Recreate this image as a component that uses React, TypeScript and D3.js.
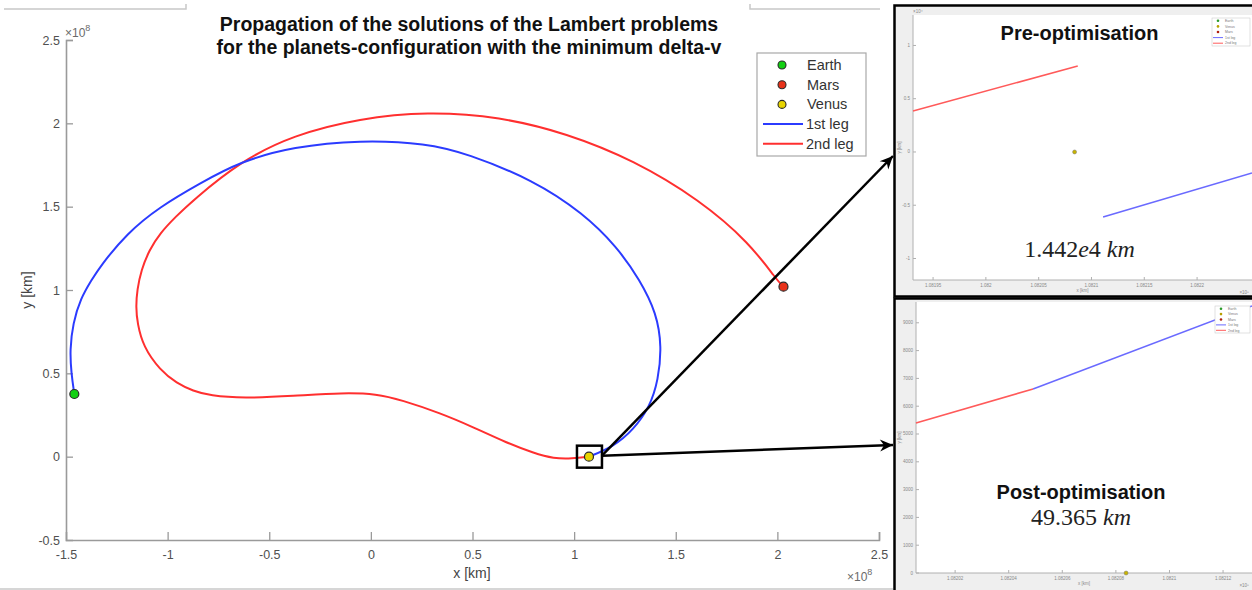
import React, { useRef, useEffect } from "react";
import * as d3 from "d3";

// Main plot: trajectories in units of 1e8 km
const leg1: [number, number][] = [
  [-1.459, 0.376], [-1.474, 0.5], [-1.481, 0.64], [-1.466, 0.8], [-1.428, 0.95],
  [-1.374, 1.06], [-1.333, 1.14], [-1.201, 1.34], [-1.038, 1.5], [-0.841, 1.64],
  [-0.644, 1.77], [-0.382, 1.86], [-0.053, 1.9], [0.275, 1.88], [0.471, 1.82],
  [0.799, 1.66], [1.045, 1.46], [1.21, 1.26], [1.324, 1.06], [1.406, 0.86],
  [1.431, 0.66], [1.414, 0.46], [1.373, 0.3], [1.291, 0.16], [1.193, 0.06],
  [1.073, 0.0],
];

const leg2: [number, number][] = [
  [1.073, 0.0], [0.99, -0.012], [0.9, -0.012], [0.8, 0.022], [0.67, 0.082],
  [0.502, 0.178], [0.34, 0.262], [0.15, 0.34], [0.029, 0.376], [-0.136, 0.384],
  [-0.382, 0.364], [-0.628, 0.35], [-0.792, 0.366], [-0.874, 0.394], [-0.955, 0.44],
  [-1.038, 0.52], [-1.12, 0.66], [-1.149, 0.8], [-1.156, 0.9], [-1.15, 1.0],
  [-1.13, 1.12], [-1.09, 1.24], [-1.038, 1.34], [-0.96, 1.44], [-0.874, 1.54],
  [-0.644, 1.77], [-0.382, 1.93], [-0.053, 2.03], [0.275, 2.07], [0.635, 2.04],
  [0.963, 1.94], [1.291, 1.78], [1.619, 1.54], [1.865, 1.28], [1.997, 1.06],
  [2.03, 1.02],
];

const planetNames = ["Earth", "Mars", "Venus"];
const planetX = [-1.459, 2.03, 1.073];
const planetY = [0.376, 1.02, 0.0];

const xTicks = [-1.5, -1, -0.5, 0, 0.5, 1, 1.5, 2, 2.5];
const yTicks = [-0.5, 0, 0.5, 1, 1.5, 2, 2.5];

const titleLines = [
  "Propagation of the solutions of the Lambert problems",
  "for the planets-configuration with the minimum delta-v",
];
const legendLabels = ["Earth", "Mars", "Venus", "1st leg", "2nd leg"];

// Pre-optimisation zoom (x in 1e8 km, y in 1e4 km)
const preLeg2: [number, number][] = [[1.081931, 0.385], [1.082087, 0.808]];
const preLeg1: [number, number][] = [[1.082111, -0.61], [1.082252, -0.197]];
const preVenus: [number, number] = [1.082084, 0];
const preXTicks = [1.08195, 1.082, 1.08205, 1.0821, 1.08215, 1.0822];
const preYTicks = [-1, -0.5, 0, 0.5, 1];

// Post-optimisation zoom (x in 1e8 km, y in km)
const postLeg2: [number, number][] = [[1.0820054, 5396], [1.0820491, 6619]];
const postLeg1: [number, number][] = [[1.0820491, 6619], [1.0821308, 9604]];
const postVenus: [number, number] = [1.0820838, 0];
const postXTicks = [1.08202, 1.08204, 1.08206, 1.08208, 1.0821, 1.08212];
const postYTicks = [0, 1000, 2000, 3000, 4000, 5000, 6000, 7000, 8000, 9000];
const insetLegend = ["Earth", "Venus", "Mars", "1st leg", "2nd leg"];

const BLUE = "#2b3bff";
const RED = "#ff2f2f";
const planetFill: Record<string, string> = { Earth: "#12d012", Mars: "#e8321a", Venus: "#e8d400" };
const SANS = "'Liberation Sans', Arial, Helvetica, sans-serif";
const SERIF = "'Liberation Serif', 'DejaVu Serif', serif";

type G = d3.Selection<SVGGElement, unknown, null, undefined>;

function drawInset(
  g: G,
  o: {
    frame: [number, number, number, number];
    plot: [number, number, number, number];
    xDomain: [number, number];
    yDomain: [number, number];
    xTicks: number[];
    yTicks: number[];
    red: [number, number][];
    blue: [number, number][];
    venus: [number, number];
    legend: [number, number, number, number];
    title: string;
    titleY: number;
    value: [string, boolean][];
    valueY: number;
    yExp: string;
  },
) {
  const [fx, fy, fw, fh] = o.frame;
  const [l, t, r, b] = o.plot;
  g.append("rect").attr("x", fx).attr("y", fy).attr("width", fw).attr("height", fh).attr("fill", "#efefef");
  g.append("rect").attr("x", l).attr("y", t).attr("width", r - l).attr("height", b - t).attr("fill", "#fff");

  const x = d3.scaleLinear().domain(o.xDomain).range([l, r]);
  const y = d3.scaleLinear().domain(o.yDomain).range([b, t]);
  const small = (sel: d3.Selection<SVGTextElement, unknown, null, undefined>) =>
    sel.attr("font-family", SANS).attr("font-size", 4.5).attr("fill", "#888");

  // axes
  g.append("line").attr("x1", l).attr("x2", l).attr("y1", t).attr("y2", b).attr("stroke", "#b0b0b0").attr("stroke-width", 1);
  g.append("line").attr("x1", l).attr("x2", r).attr("y1", b).attr("y2", b).attr("stroke", "#b0b0b0").attr("stroke-width", 1);
  o.xTicks.forEach((v) => {
    g.append("line").attr("x1", x(v)).attr("x2", x(v)).attr("y1", b).attr("y2", b - 3).attr("stroke", "#b0b0b0");
    small(g.append("text").attr("x", x(v)).attr("y", b + 7).attr("text-anchor", "middle")).text(String(v));
  });
  o.yTicks.forEach((v) => {
    g.append("line").attr("x1", l).attr("x2", l + 3).attr("y1", y(v)).attr("y2", y(v)).attr("stroke", "#b0b0b0");
    small(g.append("text").attr("x", l - 3).attr("y", y(v) + 1.5).attr("text-anchor", "end")).text(String(v));
  });
  small(g.append("text").attr("x", (l + r) / 2).attr("y", b + 12).attr("text-anchor", "middle")).text("x [km]");
  small(g.append("text").attr("transform", `translate(${fx + 6},${(t + b) / 2}) rotate(-90)`).attr("text-anchor", "middle")).text("y [km]");
  if (o.yExp) small(g.append("text").attr("x", l).attr("y", t - 2)).text(o.yExp);
  small(g.append("text").attr("x", r - 3).attr("y", b + 14).attr("text-anchor", "end")).text("×10⁸");

  const line = d3.line<[number, number]>().x((d) => x(d[0])).y((d) => y(d[1]));
  g.append("path").datum(o.red).attr("d", line).attr("fill", "none").attr("stroke", "#ff5a5a").attr("stroke-width", 1.6);
  g.append("path").datum(o.blue).attr("d", line).attr("fill", "none").attr("stroke", "#6a6aff").attr("stroke-width", 1.6);
  g.append("circle").attr("cx", x(o.venus[0])).attr("cy", y(o.venus[1])).attr("r", 2)
    .attr("fill", "#c8b400").attr("stroke", "#777").attr("stroke-width", 0.5);

  // tiny legend
  const [lx, ly, lw, lh] = o.legend;
  g.append("rect").attr("x", lx).attr("y", ly).attr("width", lw).attr("height", lh)
    .attr("fill", "#fff").attr("stroke", "#ccc").attr("stroke-width", 0.6);
  const step = lh / insetLegend.length;
  insetLegend.forEach((name, i) => {
    const cy = ly + step * (i + 0.5);
    if (i < 3) {
      g.append("circle").attr("cx", lx + 6).attr("cy", cy).attr("r", 1.3)
        .attr("fill", name === "Earth" ? "#2a9a2a" : name === "Venus" ? "#b8a000" : "#b02010");
    } else {
      g.append("line").attr("x1", lx + 1).attr("x2", lx + 11).attr("y1", cy).attr("y2", cy)
        .attr("stroke", i === 3 ? "#6a6aff" : "#ff5a5a").attr("stroke-width", 1);
    }
    g.append("text").attr("x", lx + 13).attr("y", cy + 1.2).attr("font-family", SANS).attr("font-size", 3.5)
      .attr("fill", "#777").text(name);
  });

  g.append("text").attr("x", (l + r) / 2 - 3).attr("y", o.titleY).attr("text-anchor", "middle")
    .attr("font-family", SANS).attr("font-weight", "bold").attr("font-size", 20).attr("fill", "#111").text(o.title);
  const vt = g.append("text").attr("x", (l + r) / 2 - 3).attr("y", o.valueY).attr("text-anchor", "middle")
    .attr("font-family", SERIF).attr("font-size", 24).attr("fill", "#222");
  o.value.forEach(([s, it]) => vt.append("tspan").attr("font-style", it ? "italic" : "normal").text(s));
}

const TrajectoryFigure: React.FC = () => {
  const ref = useRef<SVGSVGElement | null>(null);

  useEffect(() => {
    const svg = d3.select(ref.current);
    svg.selectAll("*").remove();
    const root = svg.append("g") as unknown as G;

    root.append("rect").attr("width", 1252).attr("height", 590).attr("fill", "#fff");

    // screenshot edges
    const edge = "#c8c8c8";
    root.append("path").attr("d", "M4,9H186V4").attr("fill", "none").attr("stroke", edge).attr("stroke-width", 1.5);
    root.append("path").attr("d", "M750,4V9H880").attr("fill", "none").attr("stroke", edge).attr("stroke-width", 1.5);
    root.append("line").attr("x1", 0).attr("x2", 893).attr("y1", 589).attr("y2", 589).attr("stroke", edge).attr("stroke-width", 1.5);

    const x = d3.scaleLinear().domain([-1.5, 2.5]).range([66, 879]);
    const y = d3.scaleLinear().domain([-0.5, 2.5]).range([540, 40]);
    const axisColor = "#9a9a9a";
    const tickColor = "#505050";

    // axes (MATLAB style, inward ticks)
    const gx = root.append("g").attr("transform", `translate(0,${y(-0.5)})`);
    gx.call(d3.axisBottom(x).tickValues(xTicks).tickSize(-8).tickPadding(10).tickFormat((d) => String(d)) as any);
    const gy = root.append("g").attr("transform", `translate(${x(-1.5)},0)`);
    gy.call(d3.axisLeft(y).tickValues(yTicks).tickSize(-7).tickPadding(6).tickFormat((d) => String(d)) as any);
    [gx, gy].forEach((a) => {
      a.select(".domain").attr("stroke", axisColor).attr("stroke-width", 1.6);
      a.selectAll(".tick line").attr("stroke", axisColor).attr("stroke-width", 1.3);
      a.selectAll(".tick text").attr("fill", tickColor).attr("font-family", SANS).attr("font-size", 12.5);
    });
    gx.selectAll(".tick").filter((d) => d === -1.5).select("line").remove();
    gy.selectAll(".tick").filter((d) => d === -0.5).select("line").remove();

    const expLabel = (px: number, py: number) => {
      const t = root.append("text").attr("x", px).attr("y", py).attr("font-family", SANS).attr("fill", "#6a6a6a").attr("font-size", 12);
      t.append("tspan").text("×10");
      t.append("tspan").attr("font-size", 9).attr("dy", -6).text("8");
    };
    expLabel(65, 37);
    expLabel(847, 581);

    root.append("text").attr("x", 472).attr("y", 578).attr("text-anchor", "middle")
      .attr("font-family", SANS).attr("font-size", 14).attr("fill", "#444").text("x [km]");
    root.append("text").attr("transform", "translate(32,290) rotate(-90)").attr("text-anchor", "middle")
      .attr("font-family", SANS).attr("font-size", 14).attr("fill", "#444").text("y [km]");

    // title
    titleLines.forEach((s, i) => {
      root.append("text").attr("x", 469).attr("y", 31 + i * 23).attr("text-anchor", "middle")
        .attr("font-family", SANS).attr("font-weight", "bold").attr("font-size", 19.5).attr("fill", "#111").text(s);
    });

    // trajectories
    const line = d3.line<[number, number]>().x((d) => x(d[0])).y((d) => y(d[1])).curve(d3.curveBasis);
    root.append("path").datum(leg2).attr("d", line).attr("fill", "none").attr("stroke", RED).attr("stroke-width", 2);
    root.append("path").datum(leg1).attr("d", line).attr("fill", "none").attr("stroke", BLUE).attr("stroke-width", 2);

    planetNames.forEach((n, i) => {
      root.append("circle").attr("cx", x(planetX[i])).attr("cy", y(planetY[i])).attr("r", 4.5)
        .attr("fill", planetFill[n]).attr("stroke", "#2a2a2a").attr("stroke-width", 1.2);
    });

    // legend
    const lg = root.append("g");
    lg.append("rect").attr("x", 757).attr("y", 53).attr("width", 109).attr("height", 103)
      .attr("fill", "#fff").attr("stroke", "#a8a8a8").attr("stroke-width", 1.2);
    legendLabels.forEach((lab, i) => {
      const cy = 65 + i * 19.7;
      if (i < 3) {
        lg.append("circle").attr("cx", 782).attr("cy", cy).attr("r", 4)
          .attr("fill", planetFill[lab]).attr("stroke", "#2a2a2a").attr("stroke-width", 1.1);
      } else {
        lg.append("line").attr("x1", 763).attr("x2", 803).attr("y1", cy).attr("y2", cy)
          .attr("stroke", i === 3 ? BLUE : RED).attr("stroke-width", 2);
      }
      lg.append("text").attr("x", i < 3 ? 807 : 806).attr("y", cy + 5).attr("font-family", SANS)
        .attr("font-size", 14.5).attr("fill", "#333").text(lab);
    });

    // zoom box and arrows
    const vx = x(planetX[2]);
    const vy = y(planetY[2]);
    root.append("rect").attr("x", vx - 12).attr("y", vy - 11).attr("width", 25).attr("height", 22)
      .attr("fill", "none").attr("stroke", "#000").attr("stroke-width", 2.5);
    const defs = svg.append("defs");
    defs.append("marker").attr("id", "ah").attr("viewBox", "-14 -7 16 14").attr("refX", 0).attr("refY", 0)
      .attr("markerWidth", 16).attr("markerHeight", 14).attr("markerUnits", "userSpaceOnUse").attr("orient", "auto")
      .append("path").attr("d", "M0,0L-13,-6L-9,0L-13,6Z").attr("fill", "#000");
    const sx = vx + 13;
    const sy = vy - 1;
    root.append("line").attr("x1", sx).attr("y1", sy).attr("x2", 893).attr("y2", 156)
      .attr("stroke", "#000").attr("stroke-width", 2.5).attr("marker-end", "url(#ah)");
    root.append("line").attr("x1", sx).attr("y1", sy).attr("x2", 893).attr("y2", 445)
      .attr("stroke", "#000").attr("stroke-width", 2.5).attr("marker-end", "url(#ah)");

    // insets
    const pre = root.append("g") as unknown as G;
    drawInset(pre, {
      frame: [895, 6, 357, 290],
      plot: [913, 15, 1252, 280],
      xDomain: [1.081931, 1.082252],
      yDomain: [-1.202, 1.286],
      xTicks: preXTicks,
      yTicks: preYTicks,
      red: preLeg2,
      blue: preLeg1,
      venus: preVenus,
      legend: [1212, 18, 38, 28],
      title: "Pre-optimisation",
      titleY: 40,
      value: [["1.442", false], ["e", true], ["4 ", false], ["km", true]],
      valueY: 257,
      yExp: "×10⁴",
    });
    const post = root.append("g") as unknown as G;
    drawInset(post, {
      frame: [895, 299, 357, 291],
      plot: [916, 302, 1252, 573],
      xDomain: [1.0820054, 1.0821308],
      yDomain: [0, 9748],
      xTicks: postXTicks,
      yTicks: postYTicks,
      red: postLeg2,
      blue: postLeg1,
      venus: postVenus,
      legend: [1215, 306, 35, 27],
      title: "Post-optimisation",
      titleY: 499,
      value: [["49.365 ", false], ["km", true]],
      valueY: 525,
      yExp: "",
    });
    // frames
    root.append("rect").attr("x", 894.5).attr("y", 5.5).attr("width", 360).attr("height", 291)
      .attr("fill", "none").attr("stroke", "#000").attr("stroke-width", 2.5);
    root.append("rect").attr("x", 894.5).attr("y", 298.5).attr("width", 360).attr("height", 295)
      .attr("fill", "none").attr("stroke", "#000").attr("stroke-width", 2.5);
  }, []);

  return <svg ref={ref} width={1252} height={590} style={{ position: "absolute", left: 0, top: 0 }} />;
};

export default function App() {
  return <TrajectoryFigure />;
}
